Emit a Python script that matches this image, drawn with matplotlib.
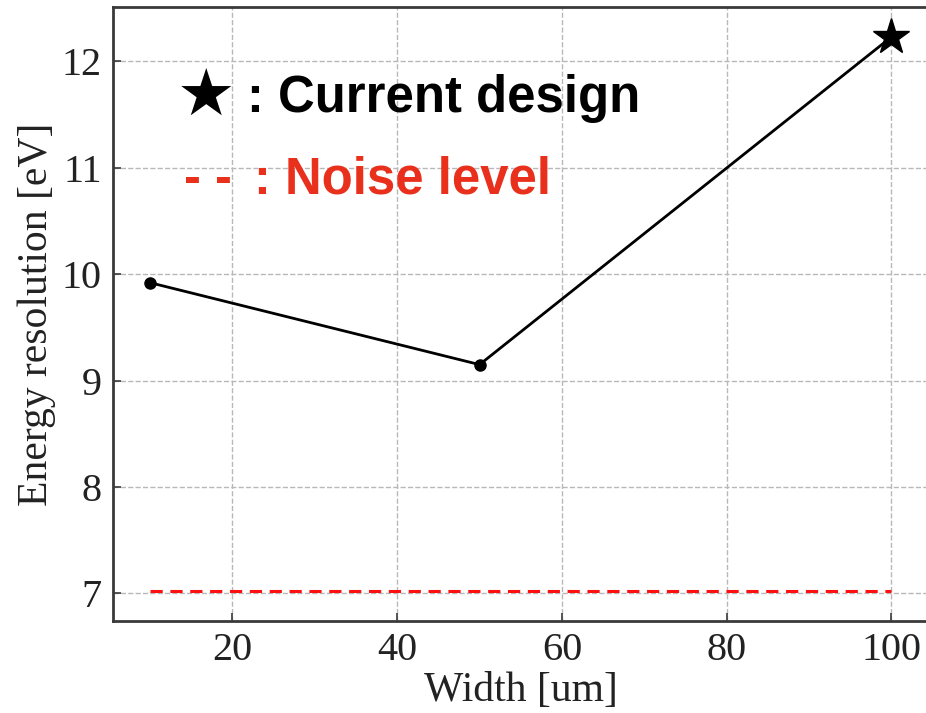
import matplotlib

matplotlib.use("Agg")
import matplotlib.pyplot as plt

# Energy resolution vs. absorber width
widths = [10, 50, 100]
resolution = [9.92, 9.15, 12.23]
noise_level = 7.02
noise_span = [10, 100]
x_ticks = [20, 40, 60, 80, 100]
y_ticks = [7, 8, 9, 10, 11, 12]

SERIF = ["Liberation Serif", "DejaVu Serif"]
SANS = ["Liberation Sans", "DejaVu Sans"]
W, H = 926, 713


def fx(px):
    return px / W


def fy(py):
    return 1 - py / H


fig = plt.figure(figsize=(W / 100, H / 100), dpi=100)
ax = fig.add_axes([0.122, 0.129, 0.8807, 0.861])

ax.plot(widths[:-1], resolution[:-1], color="black", lw=2, marker="o", ms=8, zorder=3)
ax.plot(widths[-2:], resolution[-2:], color="black", lw=2, zorder=3)
ax.plot(widths[-1], resolution[-1], color="black", marker="*", ms=27, ls="none", zorder=4)
ax.plot(noise_span, [noise_level, noise_level], color="#ff1010", lw=2.2,
        ls=(0, (4, 2.5)), zorder=3)

ax.set_xlim(5.5, 104.5)
ax.set_ylim(6.74, 12.51)
ax.set_xticks(x_ticks)
ax.set_yticks(y_ticks)
ax.grid(True, color="#b8b8b8", ls="--", lw=1)
ax.set_axisbelow(True)

for side in ax.spines.values():
    side.set_linewidth(2)
    side.set_color("#3a3a3a")
ax.tick_params(direction="in", length=6, width=1.2, color="#3a3a3a", pad=8)
for lbl in ax.get_xticklabels() + ax.get_yticklabels():
    lbl.set_family(SERIF)
    lbl.set_fontsize(29)
    lbl.set_color("#222222")

ax.set_xlabel("Width [um]", family=SERIF, fontsize=30, color="#222222", labelpad=2)
ax.set_ylabel("Energy resolution [eV]", family=SERIF, fontsize=30, color="#222222",
              labelpad=4)

# legend-like notes, placed by hand in pixel units
fig.text(fx(177), fy(115), "\u2605", family=["DejaVu Sans"], fontsize=47,
         color="black", va="baseline")
fig.text(fx(247), fy(112), ": Current design", family=SANS, weight="bold",
         fontsize=36.6, color="black", va="baseline")
fig.text(fx(184), fy(193), "- -", family=SANS, weight="bold",
         fontsize=36.6, color="#e8301c", va="baseline")
fig.text(fx(254), fy(193), ": Noise level", family=SANS, weight="bold",
         fontsize=36.6, color="#e8301c", va="baseline")

fig.savefig("out.png", dpi=100)
